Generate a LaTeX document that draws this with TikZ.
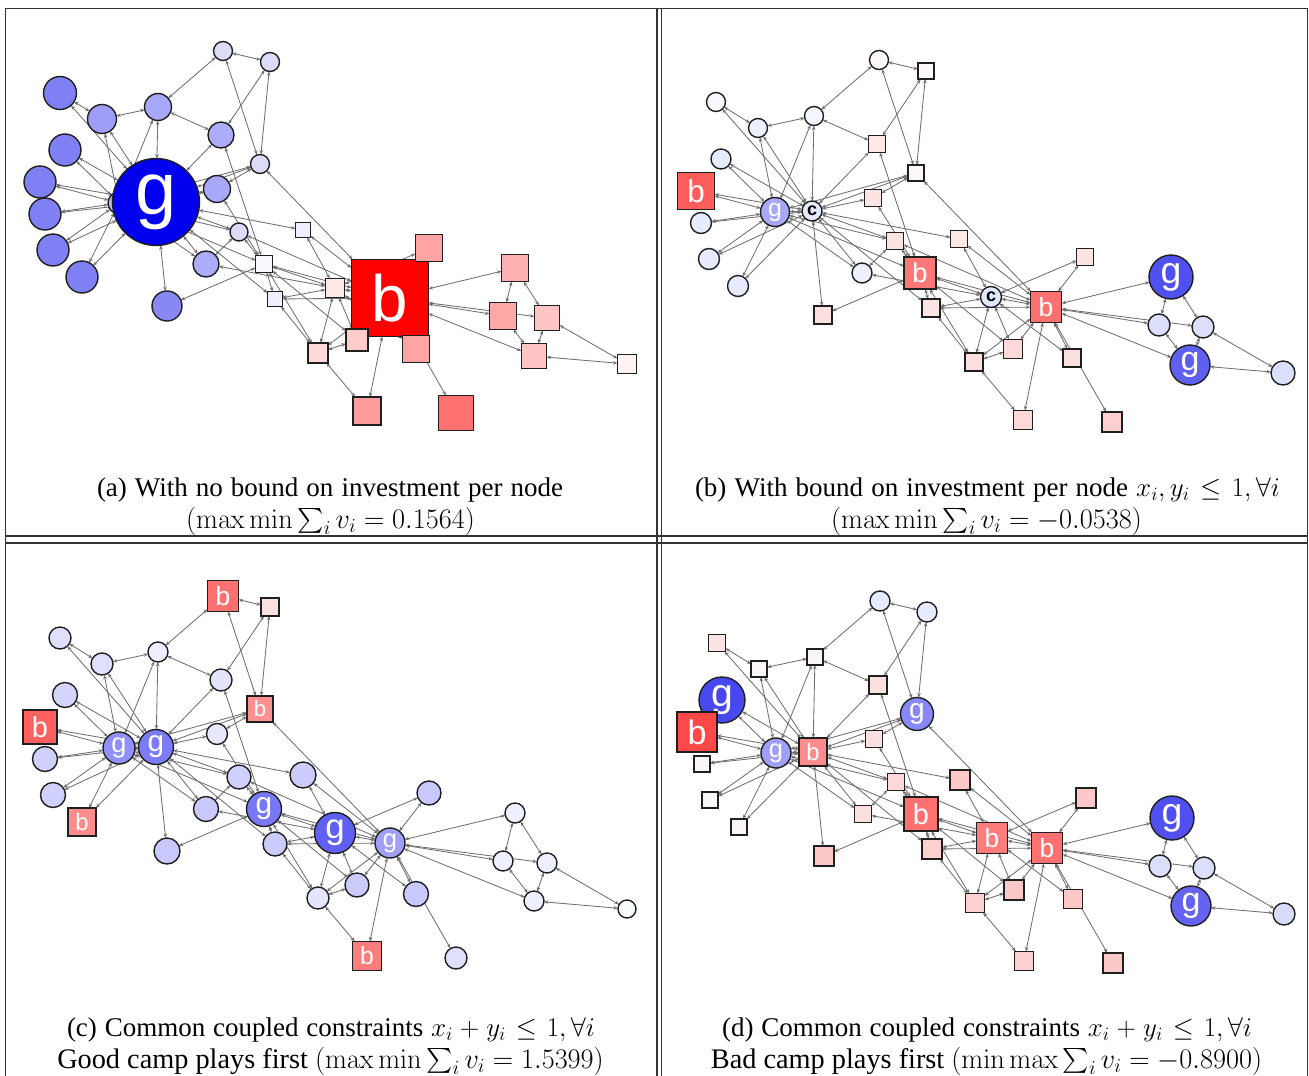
\RequirePackage{fix-cm}
\documentclass[tikz,border=0pt]{standalone}
\usepackage{exscale}
\usepackage[no-math]{fontspec}
\setmainfont{Liberation Serif}
\newfontfamily\lblfont{Liberation Sans}
\usetikzlibrary{arrows.meta}
\pgfdeclarelayer{bglayer}
\pgfdeclarelayer{edgelayer}
\pgfsetlayers{bglayer,edgelayer,main}
\makeatletter
\newcommand\setpos[3]{\@namedef{px#1}{#2}\@namedef{py#1}{#3}}
\makeatother
\setpos{1}{1046}{307}
\setpos{2}{991}{297}
\setpos{3}{920}{273}
\setpos{4}{974}{362}
\setpos{5}{1171}{277}
\setpos{6}{1190}{365}
\setpos{7}{1203}{327}
\setpos{8}{1013}{349}
\setpos{9}{895}{241}
\setpos{10}{823}{315}
\setpos{11}{1159}{325}
\setpos{12}{1112}{422}
\setpos{13}{1023}{420}
\setpos{14}{931}{308}
\setpos{15}{721}{159}
\setpos{16}{696}{191}
\setpos{17}{1283}{373}
\setpos{18}{1085}{257}
\setpos{19}{701}{223}
\setpos{20}{959}{239}
\setpos{21}{709}{259}
\setpos{22}{1072}{358}
\setpos{23}{738}{286}
\setpos{24}{814}{116}
\setpos{25}{926}{71}
\setpos{26}{879}{60}
\setpos{27}{716}{102}
\setpos{28}{877}{144}
\setpos{29}{873}{198}
\setpos{30}{758}{128}
\setpos{31}{862}{273}
\setpos{32}{916}{173}
\setpos{33}{775}{212}
\setpos{34}{812}{211}
\newcommand\gpl[7]{%
  \definecolor{f#1#2}{HTML}{#5}%
  \pgfmathsetmacro\lfs{0.85*#4}%
  \edef\nx{\csname px#2\endcsname}\edef\ny{\csname py#2\endcsname}%
  \node[gnode,#3,minimum size=#4pt,fill=f#1#2,text=#7,font=\lblfont\fontsize{\lfs}{\lfs}\selectfont] (#1#2) at (\nx,\ny) {#6};}
\newcommand\gpn[5]{\gpl{#1}{#2}{#3}{#4}{#5}{}{black}}
\newcommand\cbold{\fontsize{18}{18}\selectfont\bfseries c}
\newcommand\edgelist{1/2,1/3,1/4,1/5,1/6,1/7,1/8,1/9,1/11,1/12,1/13,1/14,1/18,1/20,1/22,1/32,
2/3,2/4,2/8,2/14,2/18,2/20,2/22,2/31,
3/4,3/8,3/9,3/10,3/14,3/28,3/29,3/33,
4/8,4/13,4/14,5/7,5/11,6/7,6/11,6/17,7/17,
9/31,9/33,9/34,10/34,14/34,15/33,15/34,16/33,16/34,19/33,19/34,20/34,
21/33,21/34,23/33,23/34,24/26,24/28,24/30,24/33,24/34,25/26,25/28,25/32,26/32,
27/30,27/34,28/34,29/32,29/34,30/33,30/34,31/33,31/34,32/33,32/34,33/34}
\newcommand\drawedges[1]{%
  \begin{pgfonlayer}{edgelayer}
  \foreach \u/\v in \edgelist {\draw[lnk] (#1\u) -- (#1\v);}
  \end{pgfonlayer}}
\tikzset{
  gnode/.style={draw=black!88, line width=1.4pt, inner sep=0pt, outer sep=0pt},
  rnd/.style={circle},
  sqr/.style={rectangle},
  lnk/.style={draw=black!56, line width=0.85pt, {Stealth[length=4.5pt,width=3.5pt]}-{Stealth[length=4.5pt,width=3.5pt]}},
  frm/.style={draw=black!80, line width=1.1pt},
  capone/.style={font=\fontsize{27}{32}\selectfont, inner sep=0pt, anchor=base, text depth=2pt},
  captwo/.style={font=\fontsize{28.3}{32}\selectfont, inner sep=0pt, anchor=base, text height=17pt}
}
\begin{document}
\begin{tikzpicture}[x=1pt,y=-1pt]
\useasboundingbox (0,0) rectangle (1309,1076);
\begin{pgfonlayer}{bglayer}
\fill[white] (0,0) rectangle (1309,1076);
\end{pgfonlayer}
% frame
\draw[frm] (5.5,1076) -- (5.5,8.5) -- (1307.5,8.5) -- (1307.5,1076);
\draw[frm] (657,8.5) -- (657,1076);
\draw[frm] (661.5,8.5) -- (661.5,1076);
\draw[frm] (5.5,536) -- (1307.5,536);
\draw[frm] (5.5,543) -- (1307.5,543);
% ---------------- panel (a)
\begin{scope}[shift={(-656,-9)}]
\gpl{a}{1}{sqr}{77}{FF0000}{b}{white}
\gpn{a}{2}{sqr}{19}{FFE8E8}
\gpn{a}{3}{sqr}{17}{F8F8FF}
\gpn{a}{4}{sqr}{20}{FFDADA}
\gpn{a}{5}{sqr}{27}{FFB0B0}
\gpn{a}{6}{sqr}{25}{FFC4C4}
\gpn{a}{7}{sqr}{25}{FFC4C4}
\gpn{a}{8}{sqr}{22}{FFCCCC}
\gpn{a}{9}{rnd}{18}{DCDCF8}
\gpn{a}{10}{rnd}{30}{8888F2}
\gpn{a}{11}{sqr}{27}{FFA8A8}
\gpn{a}{12}{sqr}{35}{FF7070}
\gpn{a}{13}{sqr}{28}{FF9C9C}
\gpn{a}{14}{sqr}{15}{EEEEFF}
\gpn{a}{15}{rnd}{32}{8080F5}
\gpn{a}{16}{rnd}{32}{8080F5}
\gpn{a}{17}{sqr}{19}{FFF2F2}
\gpn{a}{18}{sqr}{27}{FFA4A4}
\gpn{a}{19}{rnd}{32}{8080F5}
\gpn{a}{20}{sqr}{15}{EEEEFF}
\gpn{a}{21}{rnd}{32}{8080F5}
\gpn{a}{22}{sqr}{27}{FFA4A4}
\gpn{a}{23}{rnd}{32}{8080F5}
\gpn{a}{24}{rnd}{27}{A8A8F8}
\gpn{a}{25}{rnd}{19}{DCDCF8}
\gpn{a}{26}{rnd}{19}{DCDCF8}
\gpn{a}{27}{rnd}{33}{8080F5}
\gpn{a}{28}{rnd}{26}{ACACF8}
\gpn{a}{29}{rnd}{27}{A8A8F8}
\gpn{a}{30}{rnd}{29}{9E9EF8}
\gpn{a}{31}{rnd}{26}{ACACF8}
\gpn{a}{32}{rnd}{19}{DCDCF8}
\gpn{a}{33}{rnd}{22}{B8B8F8}
\gpl{a}{34}{rnd}{87}{0000EE}{g}{white}
\drawedges{a}
\end{scope}
% ---------------- panel (b)
\begin{scope}
\gpl{b}{1}{sqr}{31}{FF7070}{b}{white}
\gpl{b}{2}{rnd}{21}{E4E8FF}{\cbold}{black}
\gpl{b}{3}{sqr}{32}{FF7878}{b}{white}
\gpn{b}{4}{sqr}{18}{FCE0E0}
\gpl{b}{5}{rnd}{44}{5050F0}{g}{white}
\gpl{b}{6}{rnd}{40}{6060F0}{g}{white}
\gpn{b}{7}{rnd}{22}{DCDFFA}
\gpn{b}{8}{sqr}{19}{FCD8D8}
\gpn{b}{9}{sqr}{17}{FDE4E4}
\gpn{b}{10}{sqr}{18}{FCE0E0}
\gpn{b}{11}{rnd}{22}{DCDFFA}
\gpn{b}{12}{sqr}{20}{FCD0D0}
\gpn{b}{13}{sqr}{19}{FCD8D8}
\gpn{b}{14}{sqr}{18}{FCE4E4}
\gpn{b}{15}{rnd}{20}{E8EAFF}
\gpl{b}{16}{sqr}{37}{FF5C5C}{b}{white}
\gpn{b}{17}{rnd}{24}{DCDFFA}
\gpn{b}{18}{sqr}{17}{FCE4E4}
\gpn{b}{19}{rnd}{21}{E8EAFF}
\gpn{b}{20}{sqr}{17}{FCE8E8}
\gpn{b}{21}{rnd}{21}{E8EAFF}
\gpn{b}{22}{sqr}{18}{FCE0E0}
\gpn{b}{23}{rnd}{21}{E8EAFF}
\gpn{b}{24}{rnd}{19}{F4F6FF}
\gpn{b}{25}{sqr}{16}{FDF8F8}
\gpn{b}{26}{rnd}{19}{FCF8F8}
\gpn{b}{27}{rnd}{19}{F8F8FF}
\gpn{b}{28}{sqr}{17}{FCE8E8}
\gpn{b}{29}{sqr}{17}{FCE4E4}
\gpn{b}{30}{rnd}{19}{EEF0FF}
\gpn{b}{31}{rnd}{20}{EEF0FF}
\gpn{b}{32}{sqr}{16}{FDF8F8}
\gpl{b}{33}{rnd}{29}{A8A8F8}{g}{white}
\gpl{b}{34}{rnd}{20}{E8EAFF}{\cbold}{black}
\drawedges{b}
\end{scope}
% ---------------- panel (c)
\begin{scope}[shift={(-656,536)}]
\gpl{c}{1}{rnd}{30}{A0A0F8}{g}{white}
\gpl{c}{2}{rnd}{41}{6060F4}{g}{white}
\gpl{c}{3}{rnd}{35}{7878F4}{g}{white}
\gpn{c}{4}{rnd}{22}{E4E4FC}
\gpn{c}{5}{rnd}{20}{EEF0FF}
\gpn{c}{6}{rnd}{20}{EEF0FF}
\gpn{c}{7}{rnd}{20}{EEF0FF}
\gpn{c}{8}{rnd}{24}{CCCCFC}
\gpn{c}{9}{rnd}{24}{D0D0FC}
\gpn{c}{10}{rnd}{26}{C8C8FC}
\gpn{c}{11}{rnd}{20}{EEF0FF}
\gpn{c}{12}{rnd}{22}{E0E0FC}
\gpl{c}{13}{sqr}{29}{FF7C7C}{b}{white}
\gpn{c}{14}{rnd}{24}{CCCCFC}
\gpn{c}{15}{rnd}{25}{D4D4FC}
\gpl{c}{16}{sqr}{34}{FF6060}{b}{white}
\gpn{c}{17}{rnd}{18}{F8FCFF}
\gpn{c}{18}{rnd}{24}{C8C8FC}
\gpn{c}{19}{rnd}{25}{D0D0FC}
\gpn{c}{20}{rnd}{26}{CCCCFC}
\gpn{c}{21}{rnd}{25}{D0D0FC}
\gpn{c}{22}{rnd}{25}{C8C8FC}
\gpl{c}{23}{sqr}{28}{FF8C8C}{b}{white}
\gpn{c}{24}{rnd}{20}{EEEEFF}
\gpn{c}{25}{sqr}{18}{FCE0E0}
\gpl{c}{26}{sqr}{31}{FF7070}{b}{white}
\gpn{c}{27}{rnd}{22}{E0E0FC}
\gpn{c}{28}{rnd}{22}{E4E4FC}
\gpn{c}{29}{rnd}{21}{E8E8FC}
\gpn{c}{30}{rnd}{22}{E0E0FC}
\gpn{c}{31}{rnd}{25}{C8C8FC}
\gpl{c}{32}{sqr}{26}{FF9090}{b}{white}
\gpl{c}{33}{rnd}{32}{9090F8}{g}{white}
\gpl{c}{34}{rnd}{35}{7C7CF8}{g}{white}
\drawedges{c}
\end{scope}
% ---------------- panel (d)
\begin{scope}[shift={(1,541)}]
\gpl{d}{1}{sqr}{31}{FF7070}{b}{white}
\gpl{d}{2}{sqr}{31}{FF7C7C}{b}{white}
\gpl{d}{3}{sqr}{34}{FF7070}{b}{white}
\gpn{d}{4}{sqr}{19}{FCD0D0}
\gpl{d}{5}{rnd}{44}{5050F0}{g}{white}
\gpl{d}{6}{rnd}{40}{6464F0}{g}{white}
\gpn{d}{7}{rnd}{22}{DCDFFA}
\gpn{d}{8}{sqr}{20}{FCC8C8}
\gpn{d}{9}{sqr}{17}{FCD8D8}
\gpn{d}{10}{sqr}{20}{FCC8C8}
\gpn{d}{11}{rnd}{22}{DCDFFA}
\gpn{d}{12}{sqr}{20}{FCC8C8}
\gpn{d}{13}{sqr}{19}{FCD0D0}
\gpn{d}{14}{sqr}{20}{FCD0D0}
\gpl{d}{15}{rnd}{46}{4848F0}{g}{white}
\gpl{d}{16}{sqr}{40}{FF4848}{b}{white}
\gpn{d}{17}{rnd}{22}{D8DCFA}
\gpn{d}{18}{sqr}{20}{FCC8C8}
\gpn{d}{19}{sqr}{16}{FAF6F6}
\gpn{d}{20}{sqr}{20}{FCC8C8}
\gpn{d}{21}{sqr}{16}{FAF6F6}
\gpn{d}{22}{sqr}{19}{FCC8C8}
\gpn{d}{23}{sqr}{16}{FAF6F6}
\gpn{d}{24}{sqr}{16}{FAF6F6}
\gpn{d}{25}{rnd}{20}{E8EBFF}
\gpn{d}{26}{rnd}{20}{E8EBFF}
\gpn{d}{27}{sqr}{17}{FBE4E4}
\gpn{d}{28}{sqr}{18}{FCE0E0}
\gpn{d}{29}{sqr}{17}{FCE0E0}
\gpn{d}{30}{sqr}{16}{FAF6F6}
\gpn{d}{31}{sqr}{17}{FCE0E0}
\gpl{d}{32}{rnd}{33}{8888F8}{g}{white}
\gpl{d}{33}{rnd}{30}{A0A0F8}{g}{white}
\gpl{d}{34}{sqr}{28}{FF8C8C}{b}{white}
\drawedges{d}
\end{scope}
% ---------------- captions
\node[capone] (capa1) at (330,496) {\hbox to 466pt{(a) With no bound on investment per node}};
\node[captwo] (capa2) at (330.5,528) {$(\max\min\sum_i v_i = 0.1564)$};
\node[capone] (capb1) at (987.5,496) {\hbox to 585pt{(b) With bound on investment per node $x_i, y_i \leq 1, \forall i$}};
\node[captwo] (capb2) at (986.5,528) {$(\max\min\sum_i v_i = -0.0538)$};
\node[capone] (capc1) at (331,1036) {\hbox to 528pt{(c) Common coupled constraints $x_i + y_i \leq 1, \forall i$}};
\node[captwo] (capc2) at (330.5,1068) {Good camp plays first $(\max\min\sum_i v_i = 1.5399)$};
\node[capone] (capd1) at (987,1036) {\hbox to 530pt{(d) Common coupled constraints $x_i + y_i \leq 1, \forall i$}};
\node[captwo] (capd2) at (986.5,1068) {Bad camp plays first $(\min\max\sum_i v_i = -0.8900)$};
\end{tikzpicture}
\end{document}
